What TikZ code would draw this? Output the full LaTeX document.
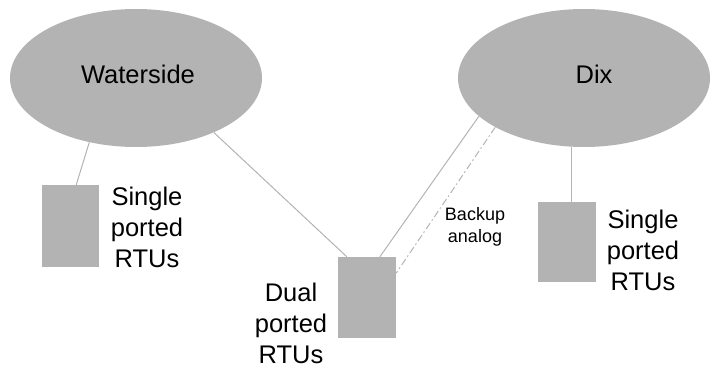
\documentclass[tikz,border=0pt]{standalone}
\usepackage{fontspec}
\setmainfont{Liberation Sans}
\usetikzlibrary{shapes.geometric,calc}
\definecolor{fillgray}{HTML}{B3B3B3}
\definecolor{linegray}{HTML}{B3B3B3}
\begin{document}
\begin{tikzpicture}[x=1pt,y=-1pt,
  site/.style={ellipse,fill=fillgray,draw=none,minimum width=252pt,minimum height=138pt,inner sep=0pt},
  rtu/.style={rectangle,fill=fillgray,draw=none,inner sep=0pt},
  big/.style={font=\fontsize{25.5}{31}\selectfont,align=center,inner sep=0pt,anchor=base},
  small/.style={font=\fontsize{18}{22}\selectfont,align=center,inner sep=0pt,anchor=base},
  link/.style={draw=linegray,line width=1pt},
  backup/.style={draw=linegray,line width=1pt,dash pattern=on 7pt off 3pt on 1.5pt off 3pt}]
\useasboundingbox (0,0) rectangle (714,369);
\node[site] (ws) at (136,78) {};
\node[site] (dix) at (584,78) {};
\node[big] (wst) at (138,83) {Waterside};
\node[big] (dixt) at (594,83) {Dix};
\node[rtu,minimum width=57pt,minimum height=82pt] (b1) at (70.5,226) {};
\node[rtu,minimum width=58pt,minimum height=81pt] (b2) at (367,297.5) {};
\node[rtu,minimum width=58pt,minimum height=80pt] (b3) at (567,242) {};
\node[big] (t1) at (147,267) {Single\\ported\\RTUs};
\node[big] (t2) at (291,363) {Dual\\ported\\RTUs};
\node[big] (t3) at (643,290) {Single\\ported\\RTUs};
\node[small] (t4) at (475,242) {Backup\\analog};
\coordinate (p1) at ($(b1.north west)!0.6!(b1.north east)$);
\coordinate (p2) at ($(b2.north west)!0.155!(b2.north east)$);
\coordinate (p3) at ($(b2.north west)!0.72!(b2.north east)$);
\coordinate (p4) at ($(b2.north east)!0.2!(b2.south east)$);
\coordinate (p5) at ($(b3.north west)!0.57!(b3.north east)$);
\draw[link] (ws.234) -- (p1);
\draw[link] (ws.325) -- (p2);
\draw[link] (dix.200) -- (p3);
\draw[backup] (dix.209) -- (p4);
\draw[link] (p5 |- dix.south) -- (p5);
\end{tikzpicture}
\end{document}
